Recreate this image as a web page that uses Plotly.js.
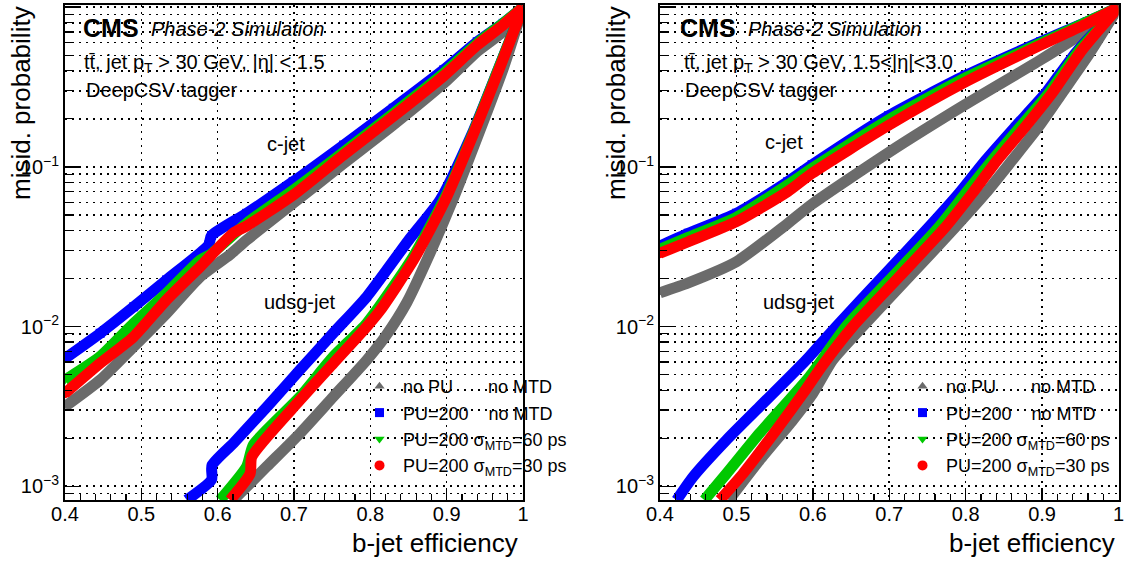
<!DOCTYPE html>
<html>
<head>
<meta charset="utf-8">
<script src="https://cdn.plot.ly/plotly-3.0.1.min.js"></script>
<style>html,body{margin:0;padding:0;background:#fff;}#chart{width:1126px;height:566px;}</style>
</head>
<body>
<div id="chart"></div>
<script>
// ---------------- DATA ----------------
const seriesNames = ["no PU\u00a0\u00a0\u00a0\u00a0\u00a0\u00a0\u00a0no MTD", "PU=200\u00a0\u00a0\u00a0\u00a0no MTD", "PU=200 \u03c3<sub>MTD</sub>=60 ps", "PU=200 \u03c3<sub>MTD</sub>=30 ps"];
const seriesColors = ["#6b6b6b", "#0000ff", "#00c800", "#ff0000"];
const seriesSymbols = ["triangle-up", "square", "triangle-down", "circle"];
const xTickVals = [0.4, 0.5, 0.6, 0.7, 0.8, 0.9, 1.0];
const yTickVals = [0.001, 0.01, 0.1, 1];
const yTickText = ["10<sup>\u22123</sup>", "10<sup>\u22122</sup>", "10<sup>\u22121</sup>", "1"];

// Left panel (|eta| < 1.5): c-jet
const L_cjet_noPU_x  = [0.400, 0.446, 0.490, 0.533, 0.577, 0.616, 0.638, 0.699, 0.765, 0.830, 0.896, 0.940, 0.974, 1.000];
const L_cjet_noPU_y  = [3.16e-3, 4.63e-3, 7.48e-3, 1.21e-2, 2.05e-2, 2.82e-2, 3.48e-2, 5.92e-2, 0.105, 0.183, 0.333, 0.527, 0.703, 1.0];
const L_cjet_PU_x    = [0.400, 0.446, 0.490, 0.533, 0.588, 0.592, 0.638, 0.699, 0.765, 0.830, 0.896, 0.940, 0.974, 1.000];
const L_cjet_PU_y    = [6.32e-3, 9.08e-3, 1.33e-2, 1.96e-2, 3.24e-2, 3.72e-2, 5.12e-2, 8.09e-2, 0.137, 0.233, 0.405, 0.608, 0.793, 1.0];
const L_cjet_60_x    = [0.400, 0.446, 0.490, 0.533, 0.577, 0.590, 0.638, 0.699, 0.765, 0.830, 0.896, 0.940, 0.974, 1.000];
const L_cjet_60_y    = [4.63e-3, 6.49e-3, 1.05e-2, 1.62e-2, 2.61e-2, 2.82e-2, 4.44e-2, 7.16e-2, 0.124, 0.216, 0.385, 0.594, 0.793, 1.0];
const L_cjet_30_x    = [0.400, 0.446, 0.490, 0.533, 0.577, 0.620, 0.638, 0.699, 0.765, 0.830, 0.896, 0.940, 0.974, 1.000];
const L_cjet_30_y    = [3.82e-3, 5.89e-3, 8.65e-3, 1.47e-2, 2.37e-2, 3.84e-2, 4.27e-2, 6.67e-2, 0.119, 0.207, 0.371, 0.579, 0.774, 1.0];
// Left panel: udsg-jet
const L_udsg_noPU_x  = [0.6206, 0.6644, 0.708, 0.7516, 0.7954, 0.820, 0.848, 0.874, 0.908, 0.942, 0.975, 1.000];
const L_udsg_noPU_y  = [8.2e-4, 1.33e-3, 2.15e-3, 3.64e-3, 6.18e-3, 8.71e-3, 1.42e-2, 2.60e-2, 6.21e-2, 0.162, 0.425, 1.0];
const L_udsg_PU_x    = [0.5595, 0.592, 0.5925, 0.6206, 0.6644, 0.708, 0.7516, 0.7954, 0.850, 0.8915, 0.9335, 0.969, 1.000];
const L_udsg_PU_y    = [8.2e-4, 1.10e-3, 1.35e-3, 1.86e-3, 3.14e-3, 5.37e-3, 9.12e-3, 1.54e-2, 3.47e-2, 6.21e-2, 0.162, 0.425, 1.0];
const L_udsg_60_x    = [0.6031, 0.638, 0.6468, 0.708, 0.7516, 0.7954, 0.8565, 0.8982, 0.9353, 0.9702, 1.000];
const L_udsg_60_y    = [8.2e-4, 1.33e-3, 1.82e-3, 3.64e-3, 6.49e-3, 1.05e-2, 2.75e-2, 6.46e-2, 0.166, 0.437, 1.0];
const L_udsg_30_x    = [0.6163, 0.6425, 0.6447, 0.708, 0.7516, 0.7954, 0.8128, 0.8565, 0.8982, 0.9353, 0.9702, 1.000];
const L_udsg_30_y    = [8.2e-4, 1.20e-3, 1.53e-3, 3.47e-3, 5.89e-3, 1.0e-2, 1.26e-2, 2.61e-2, 6.21e-2, 0.162, 0.425, 1.0];

// Right panel (1.5 < |eta| < 3.0): c-jet
const R_cjet_x       = [0.400, 0.437, 0.500, 0.567, 0.599, 0.699, 0.799, 0.898, 0.959, 1.000];
const R_cjet_noPU_y  = [1.63e-2, 1.88e-2, 2.55e-2, 4.42e-2, 5.85e-2, 0.123, 0.245, 0.468, 0.719, 1.0];
const R_cjet_PU_y    = [3.20e-2, 3.84e-2, 5.12e-2, 8.07e-2, 0.103, 0.209, 0.372, 0.608, 0.811, 1.0];
const R_cjet_60_y    = [3.05e-2, 3.62e-2, 4.83e-2, 7.71e-2, 9.79e-2, 0.197, 0.359, 0.594, 0.811, 1.0];
const R_cjet_30_y    = [2.88e-2, 3.40e-2, 4.54e-2, 7.00e-2, 9.12e-2, 0.182, 0.339, 0.579, 0.793, 1.0];
// Right panel: udsg-jet
const R_udsg_noPU_x  = [0.490, 0.5304, 0.5739, 0.600, 0.626, 0.6652, 0.7261, 0.787, 0.8261, 0.8608, 0.8957, 0.926, 0.962, 1.000];
const R_udsg_noPU_y  = [8.2e-4, 1.46e-3, 2.60e-3, 3.82e-3, 6.18e-3, 1.0e-2, 2.05e-2, 4.22e-2, 6.84e-2, 0.110, 0.179, 0.289, 0.513, 1.0];
const R_udsg_PU_x    = [0.4218, 0.4435, 0.487, 0.5304, 0.5913, 0.6305, 0.6913, 0.7522, 0.7913, 0.8261, 0.8652, 0.9044, 0.945, 1.000];
const R_udsg_PU_y    = [8.2e-4, 1.15e-3, 1.95e-3, 3.15e-3, 6.18e-3, 1.0e-2, 2.05e-2, 4.22e-2, 6.84e-2, 0.110, 0.179, 0.289, 0.525, 1.0];
const R_udsg_60_x    = [0.458, 0.487, 0.5304, 0.5957, 0.6435, 0.7043, 0.7652, 0.800, 0.8348, 0.8717, 0.9087, 0.948, 1.000];
const R_udsg_60_y    = [8.2e-4, 1.20e-3, 2.15e-3, 4.86e-3, 1.0e-2, 2.05e-2, 4.22e-2, 6.84e-2, 0.110, 0.179, 0.289, 0.531, 1.0];
const R_udsg_30_x    = [0.4783, 0.5087, 0.5522, 0.5913, 0.613, 0.6522, 0.713, 0.7739, 0.8087, 0.8413, 0.8783, 0.913, 0.952, 1.000];
const R_udsg_30_y    = [8.2e-4, 1.20e-3, 2.25e-3, 4.07e-3, 5.75e-3, 1.0e-2, 2.05e-2, 4.22e-2, 6.84e-2, 0.110, 0.179, 0.289, 0.537, 1.0];

// ---------------- BUILD ----------------
const FONT = "Liberation Sans, Arial, Helvetica, sans-serif";
const W = 1126, H = 566;
const BAND = 11;

const panels = [
  {xa: "x", ya: "y", legend: "legend",
   cjet: [[L_cjet_noPU_x, L_cjet_noPU_y], [L_cjet_PU_x, L_cjet_PU_y], [L_cjet_60_x, L_cjet_60_y], [L_cjet_30_x, L_cjet_30_y]],
   udsg: [[L_udsg_noPU_x, L_udsg_noPU_y], [L_udsg_PU_x, L_udsg_PU_y], [L_udsg_60_x, L_udsg_60_y], [L_udsg_30_x, L_udsg_30_y]]},
  {xa: "x2", ya: "y2", legend: "legend2",
   cjet: [[R_cjet_x, R_cjet_noPU_y], [R_cjet_x, R_cjet_PU_y], [R_cjet_x, R_cjet_60_y], [R_cjet_x, R_cjet_30_y]],
   udsg: [[R_udsg_noPU_x, R_udsg_noPU_y], [R_udsg_PU_x, R_udsg_PU_y], [R_udsg_60_x, R_udsg_60_y], [R_udsg_30_x, R_udsg_30_y]]}
];

const markerSizes = [9, 9, 9, 10];
const traces = [];
panels.forEach(p => {
  // legend entries (markers at c-jet points, drawn beneath the bands)
  for (let i = 0; i < 4; i++) {
    traces.push({type: "scatter", mode: "markers", x: p.cjet[i][0], y: p.cjet[i][1],
      xaxis: p.xa, yaxis: p.ya, legend: p.legend, name: seriesNames[i], showlegend: true,
      marker: {color: seriesColors[i], symbol: seriesSymbols[i], size: markerSizes[i]},
      hoverinfo: "skip"});
  }
  for (let i = 0; i < 4; i++) {
    [p.cjet[i], p.udsg[i]].forEach(d => {
      traces.push({type: "scatter", mode: "lines", x: d[0], y: d[1],
        xaxis: p.xa, yaxis: p.ya, showlegend: false,
        line: {color: seriesColors[i], width: BAND, shape: "spline", smoothing: 0.6}, hoverinfo: "skip"});
    });
  }
});

const GRID = {gridcolor: "#000", gridwidth: 1.6, griddash: "2px,5px"};

function xAxis(domain) {
  return Object.assign({domain: domain, range: [0.4, 1.0], tickmode: "array", tickvals: xTickVals,
    ticks: "inside", ticklen: 11, tickwidth: 1.5, tickcolor: "#000", ticklabelstandoff: -5,
    showline: true, linecolor: "#000", linewidth: 2, mirror: true,
    showgrid: true, zeroline: false, tickfont: {family: FONT, size: 20, color: "#000"},
    minor: {dtick: 0.02, ticks: "inside", ticklen: 6, tickwidth: 1.2, tickcolor: "#000", showgrid: false},
    automargin: false, fixedrange: true}, GRID);
}
function yAxis(anchor) {
  return Object.assign({domain: [66 / H, 561 / H], type: "log", range: [-3.086, 0.014], anchor: anchor,
    tickmode: "array", tickvals: yTickVals, ticktext: yTickText,
    ticks: "inside", ticklen: 14, tickwidth: 1.5, tickcolor: "#000",
    showline: true, linecolor: "#000", linewidth: 2, mirror: true,
    showgrid: true, zeroline: false, tickfont: {family: FONT, size: 20, color: "#000"},
    minor: Object.assign({tickmode: "linear", dtick: "D1", ticks: "inside", ticklen: 7, tickwidth: 1.2, tickcolor: "#000",
            showgrid: true}, GRID),
    automargin: false, fixedrange: true}, GRID);
}

function txt(text, px, py, size, opts) {
  return Object.assign({xref: "paper", yref: "paper", x: px / W, y: 1 - py / H, text: text,
    showarrow: false, xanchor: "left", yanchor: "middle",
    font: {family: FONT, size: size, color: "#000"}}, opts || {});
}

const annotations = [
  // left panel texts
  txt("<b>CMS</b>", 81, 28, 25),
  txt("<i>Phase-2 Simulation</i>", 149, 29, 20),
  txt("tt\u0304, jet p<sub>T</sub> > 30 GeV, |\u03b7| < 1.5", 82, 63, 20),
  txt("DeepCSV tagger", 84, 90, 20),
  txt("c-jet", 286, 144, 20, {xanchor: "center"}),
  txt("udsg-jet", 300, 302, 20, {xanchor: "center"}),
  txt("b-jet efficiency", 520, 543, 26, {xanchor: "right"}),
  txt("misid. probability", 21, 4, 26, {xanchor: "center", yanchor: "top", textangle: -90}),
  // right panel texts
  txt("<b>CMS</b>", 678, 28, 25),
  txt("<i>Phase-2 Simulation</i>", 746, 29, 20),
  txt("tt\u0304, jet p<sub>T</sub> > 30 GeV, 1.5<|\u03b7|<3.0", 682, 63, 20),
  txt("DeepCSV tagger", 683, 90, 20),
  txt("c-jet", 784, 142, 20, {xanchor: "center"}),
  txt("udsg-jet", 799, 302, 20, {xanchor: "center"}),
  txt("b-jet efficiency", 1117, 543, 26, {xanchor: "right"}),
  txt("misid. probability", 616, 4, 26, {xanchor: "center", yanchor: "top", textangle: -90})
];

function legendAt(px, py) {
  return {x: px / W, y: 1 - py / H, xanchor: "left", yanchor: "top", bgcolor: "rgba(0,0,0,0)",
    borderwidth: 0, font: {family: FONT, size: 18, color: "#000"}, itemsizing: "trace", itemwidth: 37,
    tracegroupgap: 0, itemclick: false, itemdoubleclick: false};
}

const layout = {
  width: W, height: H, margin: {l: 0, r: 0, t: 0, b: 0},
  paper_bgcolor: "#fff", plot_bgcolor: "#fff",
  font: {family: FONT, color: "#000"},
  xaxis: Object.assign(xAxis([65 / W, 523 / W]), {anchor: "y"}),
  yaxis: yAxis("x"),
  xaxis2: Object.assign(xAxis([660 / W, 1118.5 / W]), {anchor: "y2"}),
  yaxis2: yAxis("x2"),
  legend: legendAt(356, 368),
  legend2: legendAt(899, 368),
  annotations: annotations,
  showlegend: true
};

Plotly.newPlot("chart", traces, layout, {displayModeBar: false, staticPlot: true});
</script>
</body>
</html>
